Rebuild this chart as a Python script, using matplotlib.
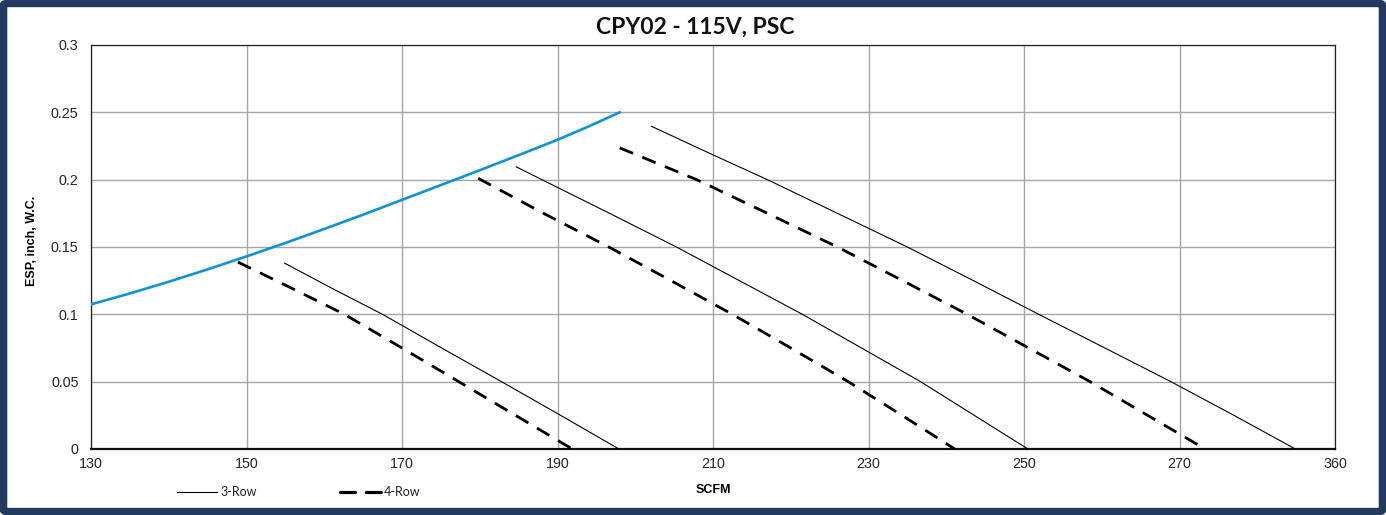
import matplotlib
matplotlib.use("Agg")
import matplotlib.pyplot as plt
from matplotlib.patches import FancyBboxPatch
from matplotlib.lines import Line2D

# ---- data ----
x_ticks = [130, 150, 170, 190, 210, 230, 250, 270, 290]
x_tick_labels = ["130", "150", "170", "190", "210", "230", "250", "270", "360"]
y_ticks = [0, 0.05, 0.1, 0.15, 0.2, 0.25, 0.3]
y_tick_labels = ["0", "0.05", "0.1", "0.15", "0.2", "0.25", "0.3"]

limit_x = [130, 135, 140, 145, 150, 155, 160, 165, 170, 175, 180, 185, 190, 194, 198]
limit_y = [0.1074, 0.1155, 0.1242, 0.1334, 0.143, 0.153, 0.1634, 0.174, 0.185, 0.196, 0.207, 0.2182, 0.2296, 0.2395, 0.25]

row3_a_x = [154.9, 161.1, 167.5, 175.1, 182.8, 190.4, 197.9]
row3_a_y = [0.138, 0.119, 0.10, 0.075, 0.05, 0.025, 0.0]
row3_b_x = [184.7, 188.0, 196.7, 205.3, 213.4, 221.5, 229.1, 236.7, 243.6, 250.5]
row3_b_y = [0.2095, 0.20, 0.175, 0.15, 0.125, 0.10, 0.075, 0.05, 0.025, 0.0]
row3_c_x = [202.1, 209.4, 217.0, 226.0, 235.0, 243.5, 251.9, 260.4, 268.9, 277.0, 284.9]
row3_c_y = [0.2396, 0.22, 0.20, 0.175, 0.15, 0.125, 0.10, 0.075, 0.05, 0.025, 0.0]

row4_a_x = [148.9, 155.6, 162.6, 170.0, 177.3, 184.6, 191.9]
row4_a_y = [0.1388, 0.12, 0.10, 0.075, 0.05, 0.025, 0.0]
row4_b_x = [179.8, 188.2, 196.6, 204.6, 212.5, 220.0, 227.4, 234.3, 241.1]
row4_b_y = [0.201, 0.175, 0.15, 0.125, 0.10, 0.075, 0.05, 0.025, 0.0]
row4_c_x = [198.0, 207.9, 217.0, 226.0, 234.4, 242.7, 250.6, 258.5, 265.9, 273.3]
row4_c_y = [0.2236, 0.20, 0.175, 0.15, 0.125, 0.10, 0.075, 0.05, 0.025, 0.0]

title = "CPY02 - 115V, PSC"
x_label = "SCFM"
y_label = "ESP, inch, W.C."
legend_labels = ["3-Row", "4-Row"]

# ---- figure ----
W, H = 1386, 515
fig = plt.figure(figsize=(W / 100, H / 100), dpi=100)
fig.patch.set_facecolor("white")
ax = fig.add_axes([91 / W, 66 / H, (1335 - 91) / W, (449 - 45) / H])

ax.plot(limit_x, limit_y, color="#1192d4", lw=1.9, zorder=3, solid_joinstyle="round")

solid_kw = dict(color="black", lw=0.8, zorder=3, solid_joinstyle="round")
dash_kw = dict(color="black", lw=2.0, dashes=(5.2, 3.6), zorder=3)
for xs, ys in [(row3_a_x, row3_a_y), (row3_b_x, row3_b_y), (row3_c_x, row3_c_y)]:
    ax.plot(xs, ys, **solid_kw)
for xs, ys in [(row4_a_x, row4_a_y), (row4_b_x, row4_b_y), (row4_c_x, row4_c_y)]:
    ax.plot(xs, ys, **dash_kw)

ax.set_xlim(130, 290)
ax.set_ylim(0, 0.3)
ax.set_xticks(x_ticks)
ax.set_xticklabels(x_tick_labels)
ax.set_yticks(y_ticks)
ax.set_yticklabels(y_tick_labels)
ax.tick_params(length=0, labelsize=10.3)
ax.tick_params(axis="y", pad=9)
ax.tick_params(axis="x", pad=6)
for lab in ax.get_xticklabels() + ax.get_yticklabels():
    lab.set_family("Liberation Sans")
    lab.set_color("#262626")
ax.grid(True, color="#a6a6a6", lw=1.0, zorder=1)
ax.set_axisbelow(True)
for s in ["top", "right", "left"]:
    ax.spines[s].set_linewidth(0.9)
    ax.spines[s].set_color("#222222")
ax.spines["bottom"].set_linewidth(1.6)
ax.spines["bottom"].set_color("#111111")

ax.set_xlabel(x_label, fontsize=9, fontweight="bold", family="Liberation Sans", labelpad=9)
ax.set_ylabel(y_label, fontsize=9, fontweight="bold", family="Liberation Sans")
ax.yaxis.set_label_coords(-0.0425, 0.515)

fig.text(695 / W, 1 - 27 / H, title, ha="center", va="center", fontsize=16.5,
         fontweight="bold", family="Lato", color="#111111")

# legend (manual)
ly = 1 - 492 / H
fig.add_artist(Line2D([177 / W, 217 / W], [ly, ly], color="black", lw=0.8))
fig.text(220 / W, ly, legend_labels[0], ha="left", va="center", fontsize=9,
         family="Lato", color="#222222")
fig.add_artist(Line2D([340 / W, 382 / W], [ly, ly], color="black", lw=2.3,
                      dashes=(4.7, 3.4), dash_capstyle="round"))
fig.text(384 / W, ly, legend_labels[1], ha="left", va="center", fontsize=9,
         family="Lato", color="#222222")

# navy frame
fig.patches.append(FancyBboxPatch((0.0025, 0.0065), 0.995, 0.987, transform=fig.transFigure,
                                  boxstyle="round,pad=0,rounding_size=0.004",
                                  fill=False, edgecolor="#213a5e", lw=5.5, zorder=10))

fig.savefig("out.png", dpi=100)
